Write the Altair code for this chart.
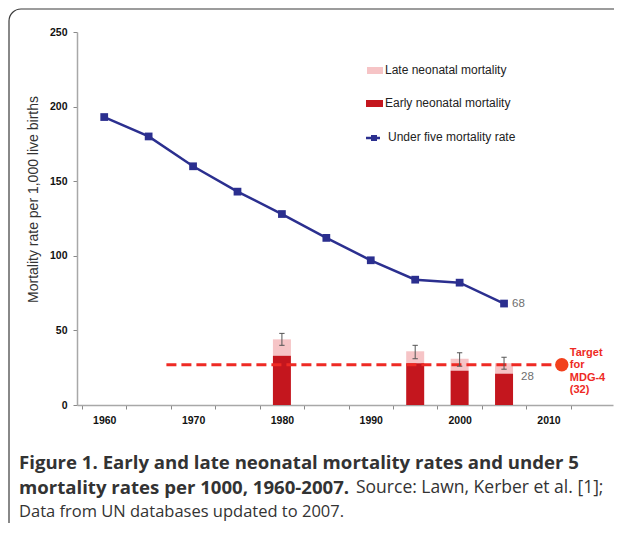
import altair as alt
import pandas as pd

# ---------------- data ----------------
years = [1960, 1965, 1970, 1975, 1980, 1985, 1990, 1995, 2000, 2005]
under5 = [193, 180, 160, 143, 128, 112, 97, 84, 82, 68]

bar_years = [1980, 1995, 2000, 2005]
early_neonatal = [33, 28, 23, 21]
total_neonatal = [44, 36, 31, 28]          # early + late
err_low = [40, 31, 26, 24]
err_high = [48, 40, 35, 32]

target_value = 27
target_start = 1967
target_year = 2011.5
target_label = "Target\nfor\nMDG-4\n(32)"

y_ticks = [0, 50, 100, 150, 200, 250]
x_values = [1957.5 + 2.5 * k for k in range(23)]   # band edges + centres

legend_labels = ["Late neonatal mortality", "Early neonatal mortality", "Under five mortality rate"]
y_title = "Mortality rate per 1,000 live births"
caption_1 = "Figure 1. Early and late neonatal mortality rates and under 5"
caption_2a = "mortality rates per 1000, 1960-2007."
caption_2b = "Source: Lawn, Kerber et al. [1];"
caption_3 = "Data from UN databases updated to 2007."

# ---------------- styles ----------------
NAVY = "#2b2f8f"
RED = "#c4161e"
PINK = "#f6c4c6"
TRED = "#ee2a24"
DOT = "#f2401c"
GRAY_TXT = "#6e6e6e"

line_df = pd.DataFrame({"year": years, "u5": under5})
bar_df = pd.DataFrame({"year": bar_years, "early": early_neonatal, "total": total_neonatal,
                       "lo": err_low, "hi": err_high})
target_df = pd.DataFrame({"start": [target_start], "end": [target_year],
                          "value": [target_value], "label": [target_label]})
one = pd.DataFrame({"a": [0]})

xs = alt.Scale(domain=[1957.5, 2016.7], nice=False, zero=False)
ys = alt.Scale(domain=[0, 250], nice=False)

xaxis = alt.Axis(values=x_values, format="d", title=None,
                 labelExpr="datum.value % 10 == 0 ? datum.value : ''",
                 tickOpacity={"condition": {"test": "datum.value % 5 != 0", "value": 1}, "value": 0},
                 tickSize=4, tickColor="#888", domainColor="#a8a8a8", domainWidth=1.5,
                 labelFont="Liberation Sans", labelFontWeight="bold", labelFontSize=10.5,
                 labelColor="#111", labelPadding=6, labelOverlap=False, labelFlush=False,
                 grid=False)
yaxis = alt.Axis(values=y_ticks, title=y_title, tickSize=4, tickColor="#888",
                 domainColor="#a8a8a8", domainWidth=1.5,
                 labelFont="Liberation Sans", labelFontWeight="bold", labelFontSize=10.5,
                 labelColor="#111", labelPadding=6, grid=False,
                 titleFont="Liberation Sans", titleFontWeight="normal", titleFontSize=14,
                 titleColor="#333", titleAngle=270, titleX=-44, titleY=167,
                 titleAlign="center", titleBaseline="middle")


def X(f):
    return alt.X(f, type="quantitative", scale=xs, axis=xaxis)


def Y(f):
    return alt.Y(f, type="quantitative", scale=ys, axis=yaxis)


late_bars = alt.Chart(bar_df).mark_bar(size=18, color=PINK).encode(
    x=X("year"), y=Y("early"), y2="total")
early_bars = alt.Chart(bar_df).mark_bar(size=18, color=RED).encode(
    x=X("year"), y=Y("early"))

err_rule = alt.Chart(bar_df).mark_rule(color="#555", strokeWidth=1).encode(
    x=X("year"), y=Y("lo"), y2="hi")
cap_half = 0.3
err_cap_hi = alt.Chart(bar_df).transform_calculate(
    x0=f"datum.year - {cap_half}", x1=f"datum.year + {cap_half}").mark_rule(
    color="#555", strokeWidth=1).encode(x=X("x0:Q"), x2="x1:Q", y=Y("hi"))
err_cap_lo = alt.Chart(bar_df).transform_calculate(
    x0=f"datum.year - {cap_half}", x1=f"datum.year + {cap_half}").mark_rule(
    color="#555", strokeWidth=1).encode(x=X("x0:Q"), x2="x1:Q", y=Y("lo"))

target_line = alt.Chart(target_df).mark_rule(color=TRED, strokeWidth=3, strokeDash=[10, 5]).encode(
    x=X("start"), x2="end", y=Y("value"))
target_dot = alt.Chart(target_df).mark_circle(size=180, color=DOT, opacity=1).encode(
    x=X("end"), y=Y("value"))
target_text = alt.Chart(target_df).mark_text(
    align="left", baseline="top", dx=8, dy=-18, lineBreak="\n", lineHeight=12.5,
    font="Liberation Sans", fontWeight="bold", fontSize=11, color=TRED).encode(
    x=X("end"), y=Y("value"), text="label")

u5_line = alt.Chart(line_df).mark_line(color=NAVY, strokeWidth=2.5).encode(x=X("year"), y=Y("u5"))
u5_pts = alt.Chart(line_df).mark_square(size=60, color=NAVY, opacity=1).encode(x=X("year"), y=Y("u5"))

last_u5 = line_df.tail(1)
u5_label = alt.Chart(last_u5).mark_text(align="left", baseline="middle", dx=8,
                                        font="Liberation Sans", fontSize=11.5, color=GRAY_TXT).encode(
    x=X("year"), y=Y("u5"), text=alt.Text("u5:Q", format="d"))
last_bar = bar_df.tail(1)
nn_label = alt.Chart(last_bar).mark_text(align="left", baseline="middle", dx=17, dy=14,
                                         font="Liberation Sans", fontSize=11.5, color=GRAY_TXT).encode(
    x=X("year"), y=Y("total"), text=alt.Text("total:Q", format="d"))


# ---------------- legend (drawn by hand) ----------------
def txt(s, x, y, **kw):
    return alt.Chart(one).mark_text(**kw).encode(x=alt.value(x), y=alt.value(y), text=alt.value(s))


leg_kw = dict(align="left", baseline="middle", font="Liberation Sans", fontSize=12, color="#222")
leg = [
    alt.Chart(one).mark_rect(color=PINK).encode(x=alt.value(290), x2=alt.value(306), y=alt.value(35), y2=alt.value(42)),
    txt(legend_labels[0], 308, 38, **leg_kw),
    alt.Chart(one).mark_rect(color=RED).encode(x=alt.value(289), x2=alt.value(306), y=alt.value(68), y2=alt.value(75)),
    txt(legend_labels[1], 308, 71, **leg_kw),
    alt.Chart(one).mark_rule(color=NAVY, strokeWidth=2.5).encode(x=alt.value(289), x2=alt.value(303), y=alt.value(106)),
    alt.Chart(one).mark_square(color=NAVY, size=36, opacity=1).encode(x=alt.value(297), y=alt.value(106)),
    txt(legend_labels[2], 311, 105, **leg_kw),
]

# ---------------- frame + caption ----------------
frame = alt.Chart(one).mark_rect(fillOpacity=0, stroke="#3a3a3a", strokeWidth=1.2, cornerRadius=12).encode(
    x=alt.value(-68), x2=alt.value(640), y=alt.value(-23), y2=alt.value(520))

cap_kw = dict(align="left", baseline="middle", font="Open Sans", color="#333")
caption = [
    txt(caption_1, -58, 431, fontWeight="bold", fontSize=18.6, **cap_kw),
    txt(caption_2a, -58, 456, fontWeight="bold", fontSize=18.6, **cap_kw),
    txt(caption_2b, 279, 456, fontSize=17.5, **cap_kw),
    txt(caption_3, -58, 480, fontSize=16.5, **cap_kw),
]

chart = alt.layer(
    late_bars, early_bars, target_line, err_rule, err_cap_hi, err_cap_lo,
    u5_line, u5_pts, target_dot, target_text, u5_label, nn_label,
    *leg, frame, *caption
).properties(
    width=536, height=373,
    padding={"left": 69, "top": 24, "right": 1, "bottom": 118},
    autosize=alt.AutoSizeParams(type="none"),
).configure_view(stroke=None)

chart.save("out.html", embed_options={"renderer": "svg", "actions": False})
